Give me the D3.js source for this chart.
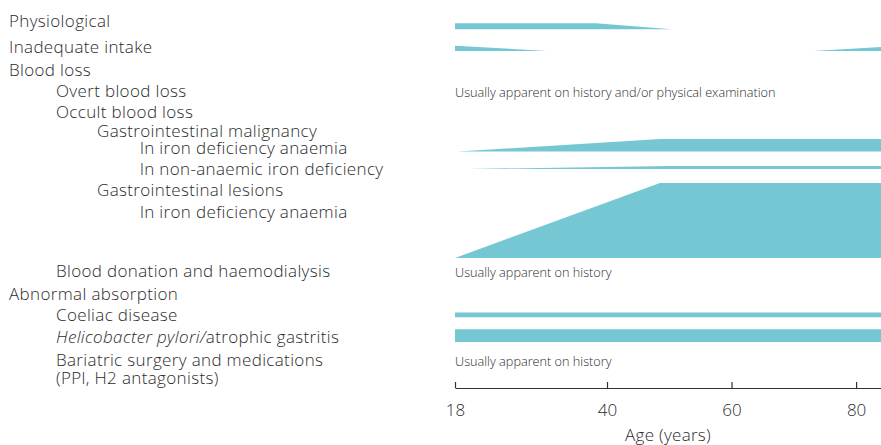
<!DOCTYPE html>
<html>
<head>
<meta charset="utf-8">
<script src="https://cdn.jsdelivr.net/npm/d3@7"></script>
<style>
  html, body { margin: 0; padding: 0; background: #fff; }
  svg { display: block; }
  text { font-family: "Open Sans", Lato, sans-serif; fill: #2b2b2b; }
</style>
</head>
<body>
<svg id="chart" width="881" height="445"></svg>
<script>
// ---- Data ----
const rowLabels = [
  "Physiological",
  "Inadequate intake",
  "Blood loss",
  "Overt blood loss",
  "Occult blood loss",
  "Gastrointestinal malignancy",
  "ln iron deficiency anaemia",
  "ln non-anaemic iron deficiency",
  "Gastrointestinal lesions",
  "ln iron deficiency anaemia",
  "Blood donation and haemodialysis",
  "Abnormal absorption",
  "Coeliac disease",
  "HELICO",
  "Bariatric surgery and medications",
  "(PPl, H2 antagonists)"
];
const rowLevels = [0, 0, 0, 1, 1, 2, 3, 3, 2, 3, 1, 0, 1, 1, 1, 1];

const noteRows = [3, 10, 14];
const noteTexts = [
  "Usually apparent on history and/or physical examination",
  "Usually apparent on history",
  "Usually apparent on history"
];

// Age profiles: [age, relative frequency]
const physiological = [[18, 4.8], [38.4, 4.8], [50.4, 0]];
const intakeYoung = [[18, 4.3], [31.3, 0]];
const intakeOld = [[73.1, 0], [84, 3.3]];
const giMalignancyIDA = [[18.4, 0], [48.5, 10], [84, 10]];
const giMalignancyNonAnaemic = [[19.7, 0], [50, 2.4], [84, 2.4]];
const giLesionsIDA = [[18, 0], [48.5, 60], [84, 60]];
const coeliac = [[18, 3.8], [84, 3.8]];
const hPylori = [[18, 10.2], [84, 10.2]];

const trackNames = ["physio", "intake", "intake", "malig", "nonan", "lesions", "coeliac", "hpylori"];
const trackSeries = [physiological, intakeYoung, intakeOld, giMalignancyIDA, giMalignancyNonAnaemic, giLesionsIDA, coeliac, hPylori];

const tickValues = [18, 40, 60, 80];
const axisTitle = "Age (years)";

// ---- Layout ----
const svg = d3.select("#chart");
const color = "#75c8d3";
const labelSize = "17px";

const x = d3.scaleLinear().domain([18, 40, 84]).range([455, 607, 881]);
const thick = d3.scaleLinear().domain([0, 60]).range([0, 75]);

const rowY = d3.scaleOrdinal()
  .domain(d3.range(rowLabels.length))
  .range([26.7, 52.7, 76, 96.7, 118, 136.7, 154, 175, 195.7, 218, 277.3, 300, 321, 343.3, 365.7, 383.5]);
const indent = d3.scaleOrdinal().domain([0, 1, 2, 3]).range([9, 56, 97, 140]);
const trackY = d3.scaleOrdinal()
  .domain(["physio", "intake", "malig", "nonan", "lesions", "coeliac", "hpylori"])
  .range([29.3, 51, 151.5, 169, 258, 317.3, 342]);

// Labels
const labels = svg.append("g").attr("class", "labels");
rowLabels.forEach((lab, i) => {
  const t = labels.append("text")
    .attr("x", indent(rowLevels[i]))
    .attr("y", rowY(i))
    .style("font-size", labelSize)
    .style("font-weight", 300)
    .style("letter-spacing", "0.35px");
  if (lab === "HELICO") {
    t.append("tspan").style("font-style", "italic").text("Helicobacter pylori/");
    t.append("tspan").text("atrophic gastritis");
  } else {
    t.text(lab);
  }
});

// Notes
noteRows.forEach((r, i) => {
  svg.append("text")
    .attr("x", x(18))
    .attr("y", rowY(r))
    .style("font-size", "12.7px")
    .style("font-weight", 300)
    .text(noteTexts[i]);
});

// Shapes
const shapes = svg.append("g").attr("class", "shapes");
trackSeries.forEach((s, i) => {
  const base = trackY(trackNames[i]);
  const area = d3.area()
    .x(d => x(d[0]))
    .y0(base)
    .y1(d => base - thick(d[1]));
  shapes.append("path")
    .attr("d", area(s))
    .attr("fill", color);
});

// Axis
const axis = d3.axisBottom(x)
  .tickValues(tickValues)
  .tickSizeInner(-6)
  .tickSizeOuter(0)
  .tickPadding(16)
  .tickFormat(d3.format("d"));
const ax = svg.append("g")
  .attr("transform", "translate(0,388)")
  .call(axis);
ax.select(".domain").attr("stroke", "#333").attr("stroke-width", 1.2);
ax.selectAll(".tick line").attr("stroke", "#333").attr("stroke-width", 1.2);
ax.selectAll(".tick text")
  .style("font-family", "'Open Sans', Lato, sans-serif")
  .style("font-size", "17px")
  .style("font-weight", 300)
  .attr("fill", "#2b2b2b");

svg.append("text")
  .attr("x", 668)
  .attr("y", 441)
  .attr("text-anchor", "middle")
  .style("font-size", "17px")
  .style("font-weight", 300)
  .style("letter-spacing", "0.3px")
  .text(axisTitle);
</script>
</body>
</html>
